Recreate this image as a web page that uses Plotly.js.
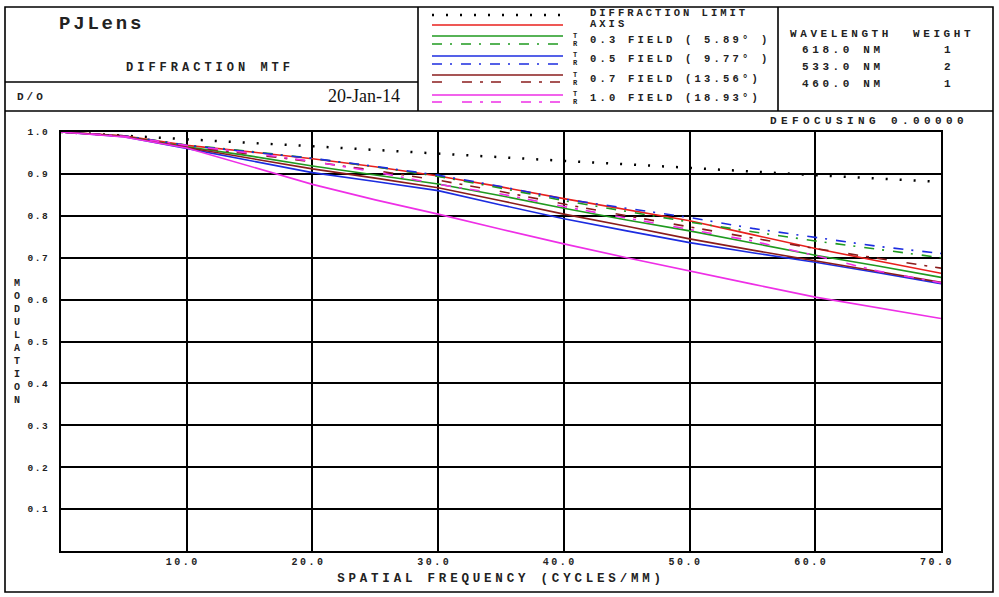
<!DOCTYPE html>
<html>
<head>
<meta charset="utf-8">
<script src="https://cdn.plot.ly/plotly-3.0.1.min.js"></script>
<style>
html,body{margin:0;padding:0;background:#fff;}
#chart{width:999px;height:597px;}
</style>
</head>
<body>
<div id="chart"></div>
<script>
// ---- data ----
const freq = [0, 5, 10, 15, 20, 25, 30, 35, 40, 45, 50, 55, 60, 65, 70];
const diffLimit = [1.0, 0.991, 0.983, 0.974, 0.966, 0.957, 0.949, 0.940, 0.931, 0.923, 0.914, 0.906, 0.897, 0.889, 0.881];
const axisMTF   = [1.0, 0.991, 0.968, 0.953, 0.936, 0.917, 0.895, 0.869, 0.841, 0.815, 0.788, 0.755, 0.722, 0.692, 0.663];
const f03T = [1.0, 0.990, 0.965, 0.943, 0.919, 0.898, 0.876, 0.848, 0.818, 0.790, 0.764, 0.735, 0.706, 0.680, 0.653];
const f03S = [1.0, 0.991, 0.969, 0.954, 0.937, 0.917, 0.894, 0.866, 0.836, 0.810, 0.785, 0.762, 0.740, 0.720, 0.700];
const f05T = [1.0, 0.989, 0.961, 0.932, 0.903, 0.882, 0.860, 0.826, 0.793, 0.764, 0.736, 0.712, 0.689, 0.664, 0.638];
const f05S = [1.0, 0.991, 0.968, 0.953, 0.937, 0.918, 0.897, 0.870, 0.840, 0.818, 0.796, 0.770, 0.748, 0.727, 0.710];
const f07T = [1.0, 0.990, 0.963, 0.938, 0.912, 0.890, 0.867, 0.836, 0.804, 0.775, 0.745, 0.718, 0.693, 0.667, 0.641];
const f07S = [1.0, 0.990, 0.966, 0.948, 0.929, 0.908, 0.885, 0.858, 0.828, 0.800, 0.773, 0.747, 0.722, 0.698, 0.675];
const f10T = [1.0, 0.988, 0.962, 0.918, 0.875, 0.838, 0.804, 0.768, 0.733, 0.700, 0.668, 0.637, 0.606, 0.580, 0.555];
const f10S = [1.0, 0.990, 0.968, 0.950, 0.930, 0.905, 0.875, 0.852, 0.822, 0.795, 0.768, 0.740, 0.705, 0.668, 0.640];

const xTickVals = [10, 20, 30, 40, 50, 60, 70];
const xTickText = ["10.0", "20.0", "30.0", "40.0", "50.0", "60.0", "70.0"];
const yTickVals = [0.1, 0.2, 0.3, 0.4, 0.5, 0.6, 0.7, 0.8, 0.9, 1.0];
const yTickText = ["0.1", "0.2", "0.3", "0.4", "0.5", "0.6", "0.7", "0.8", "0.9", "1.0"];

const fieldLabels = ["0.3 FIELD ( 5.89° )", "0.5 FIELD ( 9.77° )", "0.7 FIELD (13.56°)", "1.0 FIELD (18.93°)"];
const wlLabels = ["618.0 NM", "533.0 NM", "460.0 NM"];
const wlWeights = ["1", "2", "1"];

const cRed = "#e8201c", cGreen = "#1f9a1f", cBlue = "#1c2ce0", cBrown = "#8a1c1c", cMag = "#ee2fe6";
const DOT = "2px,12px";
const DASHDOT = "10px,8px,2px,9px";
const LDASHDOT = "10px,20px,10px,8px,3px,8px";

// ---- layout geometry ----
const W = 999, H = 597;
const L = 61, R = 941, T = 132, B = 551;
const PX = x => (x - L) / (R - L);
const PY = y => (B - y) / (B - T);
const MONO = "Liberation Mono, Courier New, monospace";

function tr(x, y, color, dash, width) {
  return {x: x, y: y, type: "scatter", mode: "lines", hoverinfo: "skip",
          line: {color: color, dash: dash, width: width || 1.6}, showlegend: false};
}
const traces = [
  tr(freq, diffLimit, "#000", DOT, 2.5),
  tr(freq, axisMTF, cRed, "solid"),
  tr(freq, f03T, cGreen, "solid"),
  tr(freq, f03S, cGreen, DASHDOT),
  tr(freq, f05T, cBlue, "solid"),
  tr(freq, f05S, cBlue, DASHDOT),
  tr(freq, f07T, cBrown, "solid"),
  tr(freq, f07S, cBrown, LDASHDOT),
  tr(freq, f10T, cMag, "solid"),
  tr(freq, f10S, cMag, LDASHDOT)
];

function line(x0, y0, x1, y1, color, dash, width) {
  return {type: "line", xref: "paper", yref: "paper", x0: PX(x0), x1: PX(x1), y0: PY(y0), y1: PY(y1),
          line: {color: color || "#000", width: width || 1.6, dash: dash || "solid"}};
}
const shapes = [
  {type: "rect", xref: "paper", yref: "paper", x0: PX(5), x1: PX(993), y0: PY(592), y1: PY(7),
   line: {color: "#000", width: 1.6}},
  line(5, 111, 993, 111),
  line(418, 7, 418, 111),
  line(778, 7, 778, 111),
  line(5, 82, 418, 82),
  // legend samples
  line(432, 15, 563, 15, "#000", DOT, 2.5),
  line(432, 25, 563, 25, cRed),
  line(432, 36, 563, 36, cGreen),
  line(432, 44, 563, 44, cGreen, DASHDOT),
  line(432, 56, 563, 56, cBlue),
  line(432, 64, 563, 64, cBlue, DASHDOT),
  line(432, 75, 563, 75, cBrown),
  line(432, 82, 563, 82, cBrown, LDASHDOT),
  line(432, 95, 563, 95, cMag),
  line(432, 102, 563, 102, cMag, LDASHDOT)
];

function ann(text, x, y, size, xanchor, opts) {
  const xa = xanchor || "left";
  return Object.assign({text: text, xref: "paper", yref: "paper", x: PX(x), y: PY(y),
    xanchor: xa, align: xa === "center" ? "center" : xa, yanchor: "middle", showarrow: false,
    font: {family: MONO, size: size, color: "#222", weight: "bold"}}, opts || {});
}
const annotations = [
  ann("PJLens", 57, 24, 19),
  ann("DIFFRACTION MTF", 124, 68, 12),
  ann("D/O", 15, 97, 11),
  ann("20-Jan-14", 402, 96, 18, "right", {font: {family: "Liberation Serif, Times New Roman, serif", size: 18, color: "#111"}}),
  ann("DIFFRACTION LIMIT", 588, 13, 10.5),
  ann("AXIS", 588, 24, 10.5),
  ann("WAVELENGTH", 788, 34, 11),
  ann("WEIGHT", 911, 34, 11),
  ann("DEFOCUSING 0.00000", 768, 121, 11),
  ann("M<br>O<br>D<br>U<br>L<br>A<br>T<br>I<br>O<br>N", 17, 342, 10, "center")
];
const fieldY = [40, 59, 79, 98];
fieldLabels.forEach((t, i) => {
  annotations.push(ann(t, 588, fieldY[i], 10.5));
  annotations.push(ann("T", 571, fieldY[i] - 4, 7));
  annotations.push(ann("R", 571, fieldY[i] + 4, 7));
});
const wlY = [50, 67, 84];
wlLabels.forEach((t, i) => {
  annotations.push(ann(t, 800, wlY[i], 11));
  annotations.push(ann(wlWeights[i], 947, wlY[i], 11, "center"));
});

const layout = {
  width: W, height: H, autosize: false,
  margin: {l: L, r: W - R, t: T, b: H - B, pad: 0},
  paper_bgcolor: "#fff", plot_bgcolor: "#fff",
  showlegend: false,
  xaxis: {
    range: [0, 70], tickvals: xTickVals, ticktext: xTickText, ticks: "",
    showgrid: true, gridcolor: "#000", gridwidth: 2, zeroline: false,
    showline: true, linecolor: "#000", linewidth: 2, mirror: true,
    ticklabelshift: -4,
    tickfont: {family: MONO, size: 10, color: "#222", weight: "bold"},
    title: {text: "SPATIAL FREQUENCY (CYCLES/MM)", standoff: 6,
            font: {family: MONO, size: 12.5, color: "#222", weight: "bold"}}
  },
  yaxis: {
    range: [0, 1], tickvals: yTickVals, ticktext: yTickText, ticks: "",
    showgrid: true, gridcolor: "#000", gridwidth: 2, zeroline: false,
    showline: true, linecolor: "#000", linewidth: 2, mirror: true,
    ticklabelstandoff: 8,
    tickfont: {family: MONO, size: 9.5, color: "#222", weight: "bold"}
  },
  shapes: shapes,
  annotations: annotations
};

// letter spacing to imitate the wide bitmap font of the original
const spacing = {
  "PJLens": 2.8, "DIFFRACTION MTF": 4, "D/O": 3,
  "DIFFRACTION LIMIT": 3, "AXIS": 3, "WAVELENGTH": 3.6, "WEIGHT": 3.6,
  "DEFOCUSING 0.00000": 4.4, "SPATIAL FREQUENCY (CYCLES/MM)": 3.8
};
fieldLabels.forEach(t => spacing[t] = 3.2);
wlLabels.forEach(t => spacing[t] = 3.6);

Plotly.newPlot("chart", traces, layout, {staticPlot: true, displayModeBar: false}).then(gd => {
  gd.querySelectorAll("text").forEach(el => {
    const t = el.textContent;
    if (spacing[t] !== undefined) el.style.letterSpacing = spacing[t] + "px";
  });
  gd.querySelectorAll(".xtick text").forEach(el => el.style.letterSpacing = "2.5px");
  gd.querySelectorAll(".ytick text").forEach(el => el.style.letterSpacing = "1.5px");
});
</script>
</body>
</html>
